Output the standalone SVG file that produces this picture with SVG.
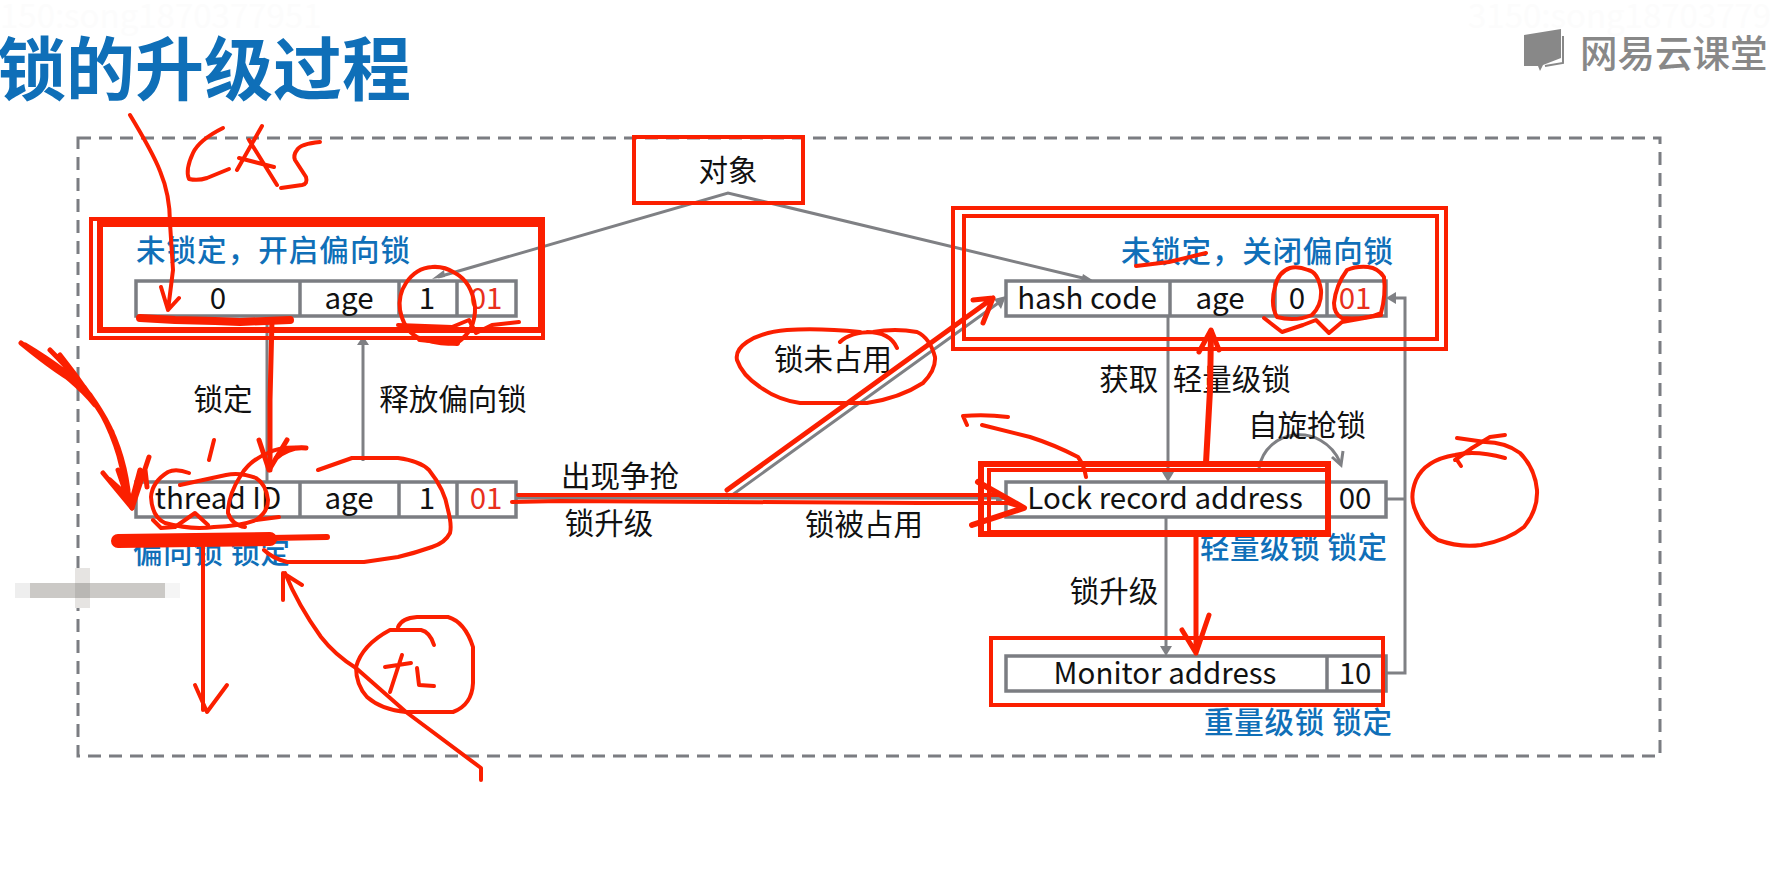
<svg xmlns="http://www.w3.org/2000/svg" width="1783" height="876" viewBox="0 0 1783 876">
<style>
text{font-family:"Noto Sans CJK SC","Noto Sans",sans-serif}
.t{font-size:29.500px;fill:#111;text-anchor:middle;dominant-baseline:central;transform:translateY(-2px)}
.r{fill:#e8301c}
.b{font-size:29.500px;font-weight:500;fill:#0f6fb8;dominant-baseline:central;transform:translateY(-2px)}
.cell{fill:#fff;stroke:#7b7d82;stroke-width:3.500}
.div{stroke:#7b7d82;stroke-width:3.500}
.g{fill:none;stroke:#7f8084;stroke-width:3}
.gh{fill:#7f8084}
.box{fill:none;stroke:#fb1f00;stroke-width:4}
.box5{stroke-width:6}
.ink{fill:none;stroke:#fb1f00;stroke-width:4;stroke-linecap:round;stroke-linejoin:round}
.w5{stroke-width:5}
.w6{stroke-width:6}
.w8{stroke-width:8}
.w13{stroke-width:14}
.wm{font-size:33px;fill:#fcfcfc}
</style>
<rect width="1783" height="876" fill="#fff"/>
<text class="wm" x="0" y="28">150:song1870377951</text>
<text class="wm" x="1468" y="28">3150:song18703779</text>
<text x="-3" y="95" font-size="69" font-weight="700" fill="#0f6fb8">锁的升级过程</text>
<g id="logo">
<path d="M1524 35L1561 29V58L1543 65L1540 71L1538 66H1524Z" fill="#888"/>
<path d="M1563 36V63L1545 66" fill="none" stroke="#888" stroke-width="2"/>
<text x="1580" y="50" font-size="37.500" font-weight="500" fill="#888" dominant-baseline="central">网易云课堂</text>
</g>
<rect id="frame" x="78" y="138" width="1582" height="618" fill="none" stroke="#7b7d82" stroke-width="3" stroke-dasharray="13 8"/>
<g id="blur">
<rect x="15" y="583" width="15" height="15" fill="#eee"/>
<rect x="30" y="583" width="135" height="15" fill="#cbc9c6"/>
<rect x="75" y="568" width="15" height="40" fill="#e6e4e2"/>
<rect x="75" y="583" width="15" height="15" fill="#b9b7b4"/>
<rect x="165" y="583" width="15" height="15" fill="#f5f5f5"/>
</g>
<g id="connectors">
<path class="g" d="M438 277L728 193L1087 279"/>
<path class="gh" d="M432 279L444 270L445 277Z M1094 281L1081 281L1083 274Z"/>
<path class="g" d="M267 317V481"/>
<path class="g" d="M363 461V342"/>
<path class="gh" d="M363 336L369 345H357Z"/>
<path class="g" d="M515 498H728L1001 301"/>
<path class="g" d="M728 498H1000"/>
<path class="gh" d="M1006 296L1001 309L994 299Z M1006 498L996 504V492Z"/>
<path class="g" d="M1168 317V475"/>
<path class="gh" d="M1168 482L1162 472H1174Z"/>
<path class="g" d="M1166 517V650"/>
<path class="gh" d="M1166 656L1160 646H1172Z"/>
<path class="g" d="M1386 673H1405V298H1392"/>
<path class="g" d="M1386 499H1405"/>
<path class="gh" d="M1386 298L1396 292V304Z"/>
<path class="g" d="M1259 468C1266 428 1322 422 1340 462"/>
<path class="g" d="M1332 457L1341 465L1343 451"/>
</g>
<g id="obj"><text class="t" x="728" y="170">对象</text></g>
<g id="n-biased-open">
<text class="b" x="136" y="250" textLength="274">未锁定，开启偏向锁</text>
<rect class="cell" x="136" y="281" width="380" height="35"/>
<path class="div" d="M300 281V316M399 281V316M457 281V316"/>
<text class="t" x="218" y="298">0</text><text class="t" x="349" y="298">age</text><text class="t" x="427" y="298">1</text><text class="t r" x="486" y="298">01</text>
</g>
<g id="n-biased-locked">
<rect class="cell" x="136" y="482" width="380" height="35"/>
<path class="div" d="M300 482V517M399 482V517M457 482V517"/>
<text class="t" x="218" y="498">thread ID</text><text class="t" x="349" y="498">age</text><text class="t" x="427" y="498">1</text><text class="t r" x="486" y="498">01</text>
<text class="b" x="133" y="552" textLength="157">偏向锁 锁定</text>
</g>
<g id="n-unbiased">
<text class="b" x="1121" y="251" textLength="272">未锁定，关闭偏向锁</text>
<rect class="cell" x="1006" y="281" width="380" height="35"/>
<path class="div" d="M1170 281V316M1275 281V316M1327 281V316"/>
<text class="t" x="1087" y="298">hash code</text><text class="t" x="1220" y="298">age</text><text class="t" x="1297" y="298">0</text><text class="t r" x="1355" y="298">01</text>
</g>
<g id="n-light">
<rect class="cell" x="1006" y="482" width="380" height="35"/>
<path class="div" d="M1327 482V517"/>
<text class="t" x="1165" y="498">Lock record address</text><text class="t" x="1355" y="498">00</text>
<text class="b" x="1200" y="547" textLength="187">轻量级锁 锁定</text>
</g>
<g id="n-heavy">
<rect class="cell" x="1006" y="656" width="380" height="35"/>
<path class="div" d="M1327 656V691"/>
<text class="t" x="1165" y="673">Monitor address</text><text class="t" x="1355" y="673">10</text>
<text class="b" x="1204" y="722" textLength="188">重量级锁 锁定</text>
</g>
<g id="labels">
<text class="t" x="223" y="399">锁定</text>
<text class="t" x="453" y="399">释放偏向锁</text>
<text class="t" x="620" y="476">出现争抢</text>
<text class="t" x="609" y="523">锁升级</text>
<text class="t" x="864" y="524">锁被占用</text>
<text class="t" x="833" y="359">锁未占用</text>
<text class="t" x="1195" y="379" style="word-spacing:8px">获取 轻量级锁</text>
<text class="t" x="1307" y="425">自旋抢锁</text>
<text class="t" x="1114" y="591">锁升级</text>
</g>
<g id="highlights">
<rect class="box" x="634" y="137" width="169" height="66"/>
<rect class="box" x="91" y="219" width="452" height="119"/>
<rect class="box box5" x="100" y="224" width="441" height="106"/>
<rect class="box" x="953" y="208" width="493" height="141"/>
<rect class="box" x="964" y="216" width="473" height="123"/>
<rect class="box box5" x="981" y="464" width="347" height="70"/>
<rect class="box" x="989" y="470" width="339" height="62"/>
<rect class="box" x="991" y="638" width="392" height="67"/>
</g>
<g id="ink">
<path class="ink" d="M130 115Q153 153 160 171Q170 195 170 223L173 270L168 310M161 287L168 310L179 298"/>
<path class="ink" d="M223 128Q199 140 193 153Q185 170 189 179Q198 181 207 178L229 169"/>
<path class="ink" d="M262 126L237 170M249 140L277 185M239 158L274 167"/>
<path class="ink" d="M320 142Q300 144 297 150Q293 155 295 160L306 177Q308 184 302 185L281 188"/>
<path class="ink w8" d="M140 318L175 320L215 321L240 322L290 320"/>
<path class="ink w5" d="M272 320L270 400V470"/>
<path class="ink w5" d="M259 440L269 470L287 440M276 458Q290 446 306 448"/>
<path class="ink" d="M432 267Q416 268 406 283Q398 295 400 310Q404 330 417 337Q440 346 457 343Q476 330 475 307Q472 282 455 273Q444 266 432 267"/>
<path class="ink w6" d="M420 339L457 343"/>
<path class="ink" d="M398 325L452 327L469 320L476 333L492 325L519 322"/>
<path class="ink w5" d="M21 343Q60 375 84 387Q105 415 115 440L132 508M50 350Q85 385 100 410Q122 445 128 490M60 355Q92 395 112 432Q125 470 130 505M30 350Q75 380 95 405M25 345Q70 372 90 395Q115 430 125 480"/>
<path class="ink w5" d="M103 473L132 508L149 457M118 470L130 505L145 470L147 487M110 480L132 500L140 470"/>
<path class="ink" d="M189 473Q176 468 168 472Q152 482 151 497Q152 517 165 523Q190 530 214 527Q240 526 256 520Q268 512 268 500Q266 484 256 478Q240 472 226 475L180 485"/>
<path class="ink" d="M306 448Q280 446 268 453Q250 460 241 475Q228 495 228 513Q232 525 245 527"/>
<path class="ink" d="M318 470L352 458H398Q420 461 429 470Q445 490 448 510Q452 525 450 533Q445 543 432 547Q415 553 398 557L364 562H287Q272 558 264 550"/>
<path class="ink" d="M214 440L209 460M153 520L161 528L175 527L195 513L208 525M256 520L279 517"/>
<path class="ink w13" d="M118 541L195 540L270 539"/>
<path class="ink w6" d="M270 538L327 537"/>
<path class="ink" d="M203 538V710M195 685L207 712L227 685"/>
<path class="ink" d="M481 780V768L406 712L356 668Q335 655 321 637Q298 605 285 573M283 600V573L302 585"/>
<path class="ink" d="M434 645Q430 632 421 630H390Q362 645 356 667Q356 685 367 697Q382 710 406 712H453Q472 705 473 683V647Q465 622 448 617H417Q402 618 398 627"/>
<path class="ink" d="M402 655L390 692M385 667L411 663M417 668L419 685L434 686"/>
<path class="ink" d="M518 495H1000M512 502L560 501L920 503H1008L1024 508"/>
<path class="ink w6" d="M978 482L1024 508L972 525"/>
<path class="ink w5" d="M727 490L993 298M973 300L993 298L983 323"/>
<path class="ink" d="M860 332Q820 328 787 330Q762 332 747 342Q735 350 737 360Q742 375 760 387Q778 400 800 403H867Q900 398 923 383Q936 370 935 357Q930 338 917 332Q895 328 873 332Q850 332 840 342M867 332Q890 332 897 348"/>
<path class="ink" d="M1136 266L1169 262L1206 253"/>
<path class="ink" d="M1290 268Q1278 272 1275 287Q1270 305 1277 317Q1295 322 1312 315Q1322 305 1321 290Q1318 272 1308 270Q1298 266 1290 268"/>
<path class="ink" d="M1347 270Q1336 285 1334 303Q1334 314 1342 318Q1365 320 1381 313Q1386 295 1384 277Q1378 268 1368 267Q1356 266 1347 270"/>
<path class="ink" d="M1264 318L1282 332L1303 325L1316 320L1329 333L1342 322L1381 315"/>
<path class="ink w6" d="M1206 463L1210 390L1211 332"/>
<path class="ink w5" d="M1199 352L1211 330L1219 350"/>
<path class="ink" d="M1086 477Q1084 465 1078 457Q1055 445 1030 437L982 425M1008 417Q985 414 963 416L967 425"/>
<path class="ink" d="M1505 458Q1475 450 1455 455Q1425 460 1416 480Q1410 495 1414 507Q1422 530 1438 540Q1460 548 1481 545Q1508 540 1524 527Q1538 510 1537 490Q1535 468 1520 453Q1505 442 1485 442L1457 438"/>
<path class="ink" d="M1455 460L1472 448L1490 437L1505 435M1457 460L1461 466"/>
<path class="ink w5" d="M1196 537V653M1182 630L1196 653L1209 615"/>
</g>
</svg>
